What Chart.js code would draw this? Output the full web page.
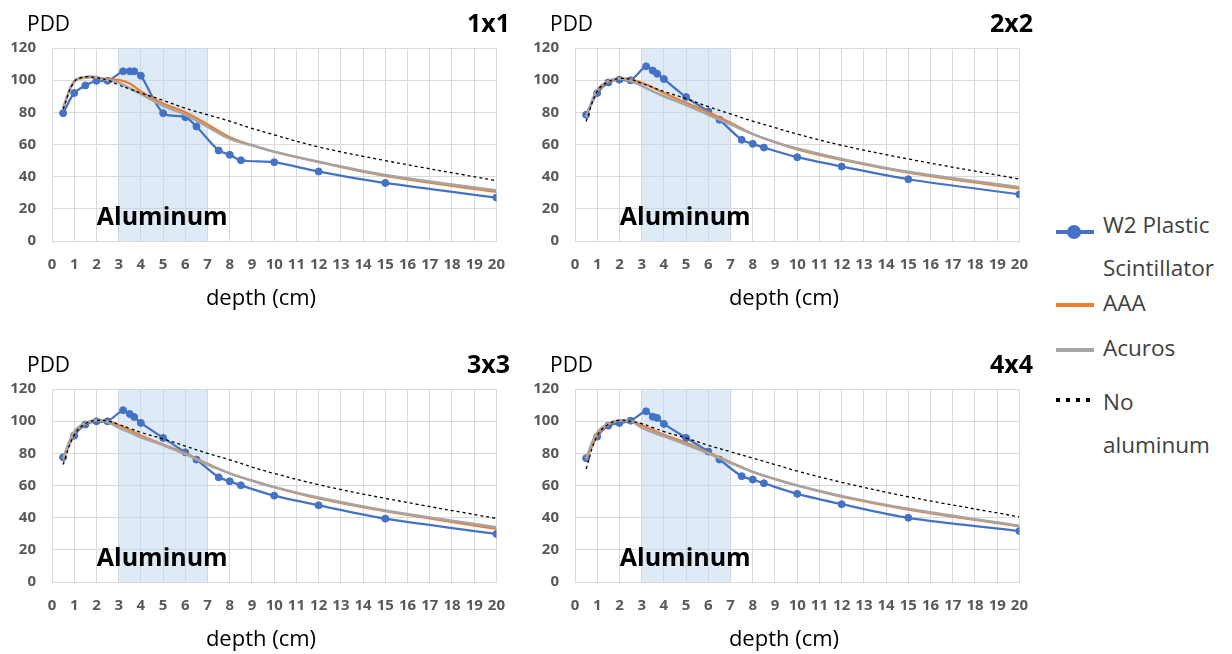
<!DOCTYPE html>
<html>
<head>
<meta charset="utf-8">
<title>PDD with aluminum slab</title>
<script src="https://cdn.jsdelivr.net/npm/chart.js@4.4.1/dist/chart.umd.min.js"></script>
<style>
  body { margin: 0; width: 1232px; height: 654px; overflow: hidden; background: #fff; font-family: "Open Sans", sans-serif; }
  .panel { position: absolute; width: 520px; height: 312px; }
  .panel canvas { position: absolute; left: 0; top: 0; }
  .pdd { position: absolute; left: 27px; top: 8px; font-size: 21px; line-height: 30px; color: #000; }
  .size { position: absolute; right: 10px; top: 7px; font-size: 25px; line-height: 30px; font-weight: bold; color: #000; }
  .xt { position: absolute; left: 0; width: 522px; top: 281px; text-align: center; font-size: 22px; line-height: 30px; color: #000; }
  .leg { position: absolute; left: 1103px; font-size: 22.5px; line-height: 30px; color: #404040; white-space: nowrap; }
  .swatch { position: absolute; left: 1056px; width: 38px; height: 4px; }
</style>
</head>
<body>

<div class="panel" style="left:0;top:0"><canvas id="c1" width="520" height="312"></canvas><div class="pdd">PDD</div><div class="size">1x1</div><div class="xt">depth (cm)</div></div>
<div class="panel" style="left:523px;top:0"><canvas id="c2" width="520" height="312"></canvas><div class="pdd">PDD</div><div class="size">2x2</div><div class="xt">depth (cm)</div></div>
<div class="panel" style="left:0;top:341px"><canvas id="c3" width="520" height="312"></canvas><div class="pdd">PDD</div><div class="size">3x3</div><div class="xt">depth (cm)</div></div>
<div class="panel" style="left:523px;top:341px"><canvas id="c4" width="520" height="312"></canvas><div class="pdd">PDD</div><div class="size">4x4</div><div class="xt">depth (cm)</div></div>

<!-- shared legend -->
<div class="swatch" style="top:230px;background:#4472C4"></div>
<div style="position:absolute;left:1067px;top:225px;width:14px;height:14px;border-radius:50%;background:#4472C4"></div>
<div class="leg" style="top:210px">W2 Plastic</div>
<div class="leg" style="top:253px">Scintillator</div>
<div class="swatch" style="top:303px;background:#ED7D31"></div>
<div class="leg" style="top:288px">AAA</div>
<div class="swatch" style="top:348px;background:#A5A5A5"></div>
<div class="leg" style="top:333px">Acuros</div>
<div class="swatch" style="top:398px;width:34px;background:repeating-linear-gradient(to right,#000 0 4px,transparent 4px 10px)"></div>
<div class="leg" style="top:387px">No</div>
<div class="leg" style="top:430px">aluminum</div>

<script>
// depths (cm)
const depthScint = [0.5, 1, 1.5, 2, 2.5, 3.2, 3.5, 3.7, 4, 5, 6, 6.5, 7.5, 8, 8.5, 10, 12, 15, 20];
const depthCalc = [0.5, 1, 1.5, 2, 2.5, 3, 3.5, 4, 5, 6, 7, 8, 9, 10, 12, 15, 20];

// aluminum slab position
const slabStart = 3;
const slabEnd = 7;

// 1x1 field
const scint1 = [79.5, 92, 96.7, 99.6, 99.6, 105.5, 105.5, 105.5, 102.8, 79.5, 77, 71.2, 56.3, 53.6, 50.2, 49, 43.2, 36.1, 27];
const aaa1 = [82.6, 99, 101.5, 101.5, 100.5, 100.2, 98, 93, 85.5, 80, 72.5, 64.5, 59.5, 55.5, 49, 40.5, 30.5];
const acuros1 = [83, 99.5, 102, 102, 100, 98.5, 95, 91.5, 84, 78.5, 71, 63.5, 59.5, 55.5, 49.3, 41, 31.5];
const noAl1 = [82, 99, 102, 101.5, 100, 97, 94.5, 92, 87.5, 82.5, 78.5, 74.5, 70, 66, 58.5, 50, 37.5];

// 2x2 field
const scint2 = [78.5, 92, 98.6, 100.3, 99.9, 108.6, 106, 104, 100.7, 89.5, 80.5, 75.4, 62.9, 60.4, 58.1, 52.1, 46.3, 38.4, 29];
const aaa2 = [77, 93, 99, 101, 100.5, 98.5, 95.5, 92, 86, 80, 73.5, 66.5, 61.5, 57, 50.5, 42.5, 32.5];
const acuros2 = [77, 94, 99.5, 101, 99.5, 96.5, 93, 90, 84.5, 78.5, 72.5, 66.5, 61.5, 57.5, 51, 43, 33.5];
const noAl2 = [74.3, 93, 99, 101, 100.5, 98, 95.5, 93, 88.5, 83.5, 79, 74.5, 70.5, 66.5, 59.5, 51, 38.5];

// 3x3 field
const scint3 = [77.5, 91, 97.9, 99.9, 99.9, 106.8, 104.5, 102.6, 98.9, 89.6, 80.6, 76.1, 65.1, 62.6, 60.1, 53.7, 47.7, 39.4, 29.9];
const aaa3 = [76, 92, 98.5, 100.5, 100, 97.5, 94.5, 91, 85.5, 80, 73.5, 67.5, 63, 59, 52, 44, 33];
const acuros3 = [77, 93.5, 99, 100.8, 99.5, 96, 93, 90, 85, 79.5, 73, 67.5, 63, 59, 52.5, 44.5, 34];
const noAl3 = [73, 91.5, 98.5, 100.5, 100, 98, 95.5, 93, 89, 84.5, 80, 76, 71.5, 67.5, 60.5, 52, 39.5];

// 4x4 field
const scint4 = [77, 90.4, 97.2, 98.9, 100.3, 106.1, 102.8, 102, 98.3, 89.6, 81.1, 76.1, 65.8, 63.7, 61.4, 54.8, 48.4, 39.9, 31.7];
const aaa4 = [76, 91, 98, 100.5, 100, 97.5, 94.5, 91.5, 86.5, 80.5, 74.5, 68.5, 64, 60, 53, 45, 34.5];
const acuros4 = [77, 93, 98.5, 100.5, 100, 96, 93, 90.5, 85.5, 80, 74, 68.5, 64, 60, 53.5, 45.5, 35];
const noAl4 = [70.3, 91, 98, 100.5, 100, 98.5, 96, 93.5, 89.5, 85, 81, 77, 73, 69, 62, 53, 40.5];

const xTicks = { min: 0, max: 20, step: 1 };
const yTicks = { min: 0, max: 120, step: 20 };

const FONT = '"Open Sans", sans-serif';

const toPoints = (xs, ys) => xs.map((x, i) => ({ x: x, y: ys[i] }));

// shaded slab region + its label
const aluminumBand = {
  id: 'aluminumBand',
  beforeDatasetsDraw(chart) {
    const { ctx, chartArea, scales: { x } } = chart;
    const x0 = x.getPixelForValue(slabStart);
    const x1 = x.getPixelForValue(slabEnd);
    ctx.save();
    ctx.fillStyle = 'rgba(189,215,238,0.5)';
    ctx.fillRect(x0, chartArea.top, x1 - x0, chartArea.bottom - chartArea.top);
    ctx.restore();
  },
  afterDatasetsDraw(chart) {
    const { ctx, scales: { x, y } } = chart;
    ctx.save();
    ctx.font = 'bold 25px ' + FONT;
    ctx.fillStyle = '#000';
    ctx.textAlign = 'center';
    ctx.textBaseline = 'middle';
    ctx.fillText('Aluminum', x.getPixelForValue(4.96), y.getPixelForValue(14.5));
    ctx.restore();
  }
};

function makeChart(id, scint, aaa, acuros, noAl) {
  const tickFont = { family: FONT, size: 15, weight: 'bold' };
  return new Chart(document.getElementById(id), {
    type: 'line',
    data: {
      datasets: [
        { label: 'W2 Plastic Scintillator', data: toPoints(depthScint, scint), borderColor: '#4472C4',
          backgroundColor: '#4472C4', borderWidth: 2.25, pointRadius: 3.5, pointBorderWidth: 1, tension: 0.3, order: 4 },
        { label: 'AAA', data: toPoints(depthCalc, aaa), borderColor: '#ED7D31', borderWidth: 2.25,
          pointRadius: 0, tension: 0.4, order: 3 },
        { label: 'Acuros', data: toPoints(depthCalc, acuros), borderColor: '#A5A5A5', borderWidth: 2.5,
          pointRadius: 0, tension: 0.4, order: 2 },
        { label: 'No aluminum', data: toPoints(depthCalc, noAl), borderColor: '#000', borderWidth: 1.3,
          borderDash: [3, 3], pointRadius: 0, tension: 0.4, order: 1 }
      ]
    },
    options: {
      responsive: false,
      animation: false,
      layout: { padding: { top: 48, right: 20, left: 0, bottom: 0 } },
      plugins: { legend: { display: false }, tooltip: { enabled: false } },
      scales: {
        x: {
          type: 'linear', min: xTicks.min, max: xTicks.max,
          ticks: { stepSize: xTicks.step, autoSkip: false, maxRotation: 0, padding: 15, color: '#595959', font: tickFont },
          grid: { color: '#D9D9D9', drawTicks: false },
          border: { color: '#D9D9D9' },
          afterFit: s => { s.height = 71; }
        },
        y: {
          min: yTicks.min, max: yTicks.max,
          ticks: { stepSize: yTicks.step, padding: 16, color: '#595959', font: tickFont },
          grid: { color: '#D9D9D9', drawTicks: false },
          border: { color: '#D9D9D9' },
          afterFit: s => { s.width = 52; }
        }
      }
    },
    plugins: [aluminumBand]
  });
}

makeChart('c1', scint1, aaa1, acuros1, noAl1);
makeChart('c2', scint2, aaa2, acuros2, noAl2);
makeChart('c3', scint3, aaa3, acuros3, noAl3);
makeChart('c4', scint4, aaa4, acuros4, noAl4);
</script>
</body>
</html>
